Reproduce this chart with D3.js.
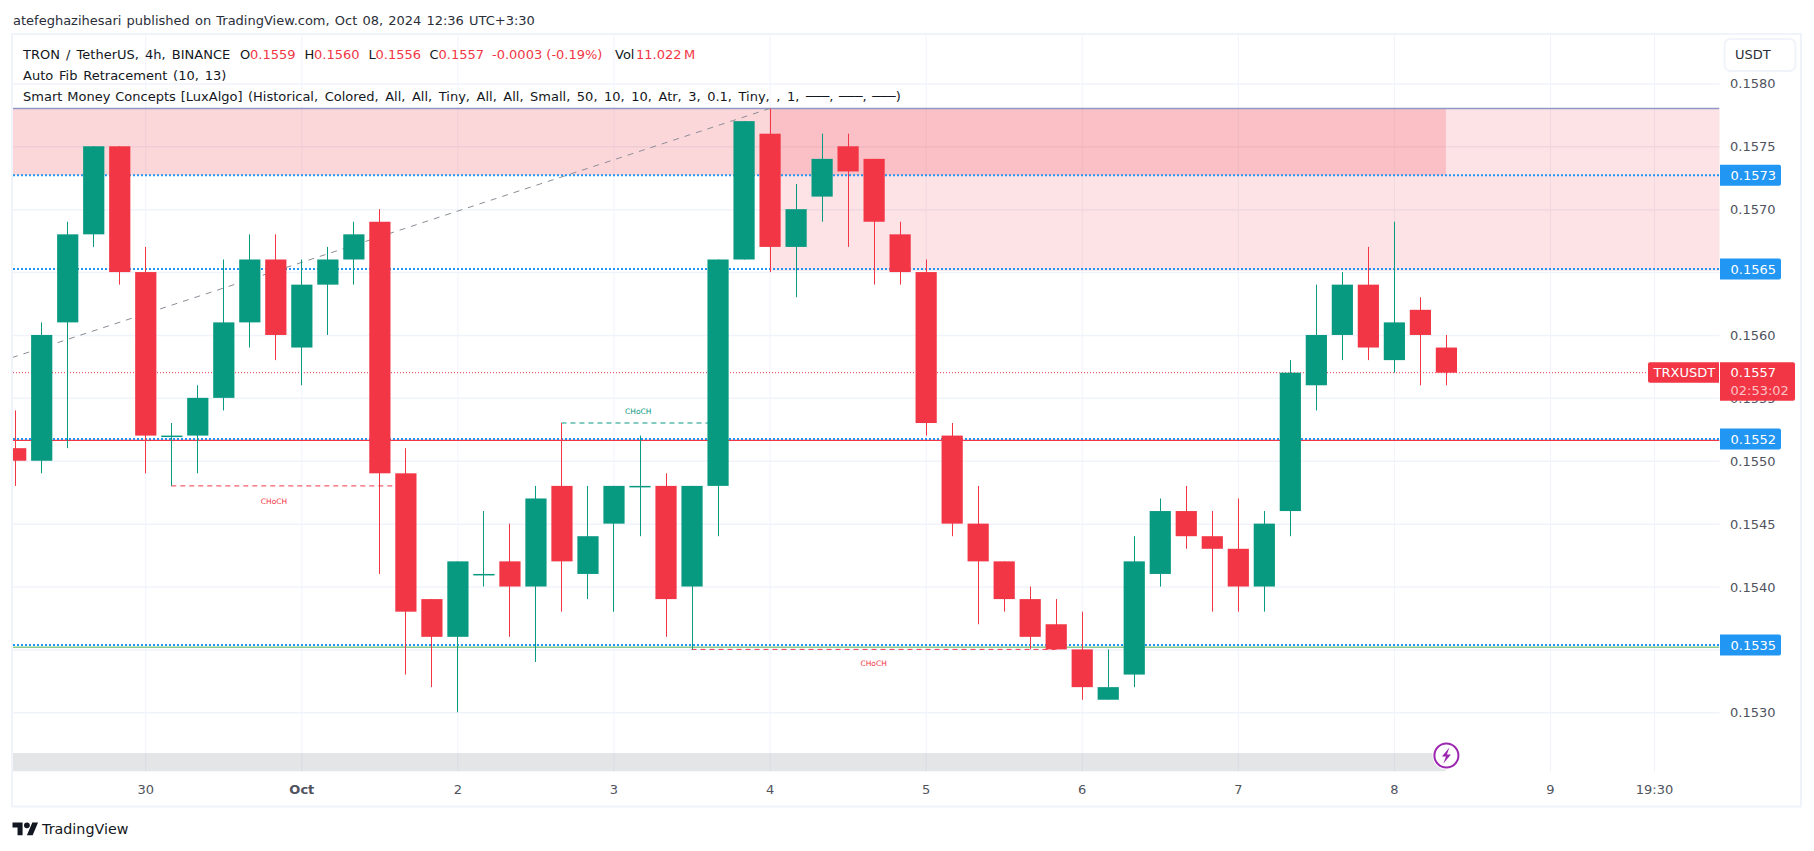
<!DOCTYPE html>
<html><head><meta charset="utf-8">
<script src="https://cdn.jsdelivr.net/npm/d3@7/dist/d3.min.js"></script>
<style>html,body{margin:0;padding:0;background:#fff;overflow:hidden}svg{display:block}text{font-family:"DejaVu Sans",sans-serif}</style>
</head><body><svg id="c" width="1814" height="851"></svg>
<script>
const opens=[.1551,.1550,.1561,.1568,.1575,.1565,.1552,.1552,.1555,.1561,.1566,.1559,.1564,.1566,.1569,.1549,.1539,.1536,.1541,.1542,.1540,.1548,.1541,.1545,.1548,.1548,.1540,.1548,.1566,.1576,.1567,.1571,.1575,.1574,.1568,.1565,.1552,.1545,.1542,.1539,.1537,.1535,.1531,.1533,.1541,.1546,.1544,.1543,.1540,.1546,.1556,.1560,.1564,.1558,.1562,.1559];
const highs=[.1554,.1561,.1569,.1575,.1575,.1567,.1553,.1556,.1566,.1568,.1568,.1566,.1567,.1569,.1570,.1551,.1539,.1542,.1546,.1545,.1548,.1553,.1548,.1548,.1552,.1549,.1548,.1566,.1577,.1578,.1572,.1576,.1576,.1574,.1569,.1566,.1553,.1548,.1542,.1540,.1539,.1538,.1535,.1544,.1547,.1548,.1546,.1547,.1546,.1558,.1564,.1565,.1567,.1569,.1563,.1560];
const lows=[.1548,.1549,.1551,.1567,.1564,.1549,.1548,.1549,.1554,.1559,.1558,.1556,.1560,.1564,.1541,.1533,.1532,.1530,.1540,.1536,.1534,.1538,.1539,.1538,.1544,.1536,.1535,.1544,.1566,.1565,.1563,.1569,.1567,.1564,.1564,.1552,.1544,.1537,.1538,.1535,.1535,.1531,.1531,.1532,.1540,.1543,.1538,.1538,.1538,.1544,.1554,.1558,.1558,.1557,.1556,.1556];
const closes=[.1550,.1560,.1568,.1575,.1565,.1552,.1552,.1555,.1561,.1566,.1560,.1564,.1566,.1568,.1549,.1538,.1536,.1542,.1541,.1540,.1547,.1542,.1544,.1548,.1548,.1539,.1548,.1566,.1577,.1567,.1570,.1574,.1573,.1569,.1565,.1553,.1545,.1542,.1539,.1536,.1535,.1532,.1532,.1542,.1546,.1544,.1543,.1540,.1545,.1557,.1560,.1564,.1559,.1561,.1560,.1557];

const priceTicks=[.1580,.1575,.1570,.1565,.1560,.1555,.1550,.1545,.1540,.1535,.1530];
const timeTickBars=[5,11,17,23,29,35,41,47,53,59,63];
const timeTickLabels=["30","Oct","2","3","4","5","6","7","8","9","19:30"];
const fibLevels=[.15727,.156524,.155173,.153535];
const currentPrice=.1557;
const redLevel=.155162, greenLevel=.153518, topLevel=.1578;
const zoneA={from:-5,to:55,top:.1578,bottom:.15727};
const zoneB={from:29,to:200,top:.1578,bottom:.15651};
const fibTrend=[[-1,.15576],[29,.1578]];
const choch=[
 {from:6,to:15,price:.1548,color:"#F23645",labelBar:9.95,labelPrice:.15468},
 {from:21,to:27,price:.1553,color:"#089981",labelBar:23.95,labelPrice:.15539},
 {from:26,to:40,price:.1535,color:"#F23645",labelBar:33,labelPrice:.15339}
];
const RED="#F23645",GREEN="#089981",BLUE="#2196F3",GRID="#F0F3FA",TXT="#131722",AX="#50535E";

const svg=d3.select("#c");
const pane={l:13,r:1719.5,t:35,b:771.5};
const x=d3.scaleLinear().domain([0,55]).range([15.2,1445.9]);
const y=d3.scaleLinear().domain([.158,.153]).range([83.4,712.3]);
const defs=svg.append("defs");
defs.append("clipPath").attr("id","pane").append("rect").attr("x",pane.l).attr("y",pane.t).attr("width",pane.r-pane.l).attr("height",pane.b-pane.t);

svg.append("rect").attr("x",12).attr("y",34).attr("width",1789).attr("height",772.5).attr("fill","#fff").attr("stroke",GRID).attr("stroke-width",2);

svg.append("text").attr("x",13).attr("y",20).attr("dy",".35em").attr("font-size",13).attr("word-spacing",1).attr("fill","#2A2E39")
 .text("atefeghazihesari published on TradingView.com, Oct 08, 2024 12:36 UTC+3:30");

const yAxis=d3.axisRight(y).tickValues(priceTicks).tickSize(pane.r-pane.l).tickFormat(d3.format(".4f"));
const yG=svg.append("g").attr("transform",`translate(${pane.l},0)`).call(yAxis);
yG.select(".domain").remove();
yG.selectAll("line").attr("stroke",GRID).attr("stroke-width",1.5);
yG.selectAll("text").attr("x",pane.r-pane.l+10.5).attr("font-size",13).attr("fill",AX).attr("dy",".35em").style("font-family",'"DejaVu Sans",sans-serif');
const xAxis=d3.axisBottom(x).tickValues(timeTickBars).tickSize(pane.b-pane.t).tickFormat((d,i)=>timeTickLabels[i]);
const xG=svg.append("g").attr("transform",`translate(0,${pane.t})`).call(xAxis);
xG.select(".domain").remove();
xG.selectAll("line").attr("stroke",GRID).attr("stroke-width",1);
xG.selectAll("text").attr("y",pane.b-pane.t+17.8).attr("dy",".35em").attr("font-size",13).attr("fill",AX)
 .attr("font-weight",(d,i)=>timeTickLabels[i]==="Oct"?"700":"400").style("font-family",'"DejaVu Sans",sans-serif');

const plot=svg.append("g").attr("clip-path","url(#pane)");
plot.append("rect").attr("x",pane.l).attr("y",753).attr("width",x(55)-pane.l).attr("height",pane.b-753).attr("fill","#787B86").attr("opacity",.2);
[[zoneA,.2],[zoneB,.14]].forEach(([z,a])=>{
 plot.append("rect").attr("x",x(z.from)).attr("y",y(z.top)).attr("width",x(z.to)-x(z.from)).attr("height",y(z.bottom)-y(z.top)).attr("fill",RED).attr("fill-opacity",a);
});
plot.append("line").attr("x1",pane.l).attr("x2",pane.r).attr("y1",y(topLevel)).attr("y2",y(topLevel)).attr("stroke","#8F97C6").attr("stroke-width",1.5);
plot.append("line").attr("x1",x(fibTrend[0][0])).attr("y1",y(fibTrend[0][1])).attr("x2",x(fibTrend[1][0])).attr("y2",y(fibTrend[1][1])).attr("stroke","#8A8D96").attr("stroke-width",1).attr("stroke-dasharray","6 6");
plot.append("line").attr("x1",pane.l).attr("x2",pane.r).attr("y1",y(redLevel)).attr("y2",y(redLevel)).attr("stroke",RED).attr("stroke-width",1.3);
plot.append("line").attr("x1",pane.l).attr("x2",pane.r).attr("y1",y(greenLevel)).attr("y2",y(greenLevel)).attr("stroke","#4CAF50").attr("stroke-width",1);
plot.selectAll(".fib").data(fibLevels).join("line").attr("x1",pane.l).attr("x2",pane.r).attr("y1",d=>y(d)).attr("y2",d=>y(d)).attr("stroke",BLUE).attr("stroke-width",2).attr("stroke-dasharray","2 2");
plot.append("line").attr("x1",pane.l).attr("x2",pane.r).attr("y1",y(currentPrice)).attr("y2",y(currentPrice)).attr("stroke",RED).attr("stroke-width",1).attr("stroke-dasharray","1 2");
choch.forEach(c=>{
 plot.append("line").attr("x1",x(c.from)).attr("x2",x(c.to)).attr("y1",y(c.price)).attr("y2",y(c.price)).attr("stroke",c.color).attr("stroke-width",1).attr("stroke-dasharray","5 4");
 plot.append("text").attr("x",x(c.labelBar)).attr("y",y(c.labelPrice)).attr("dy",".35em").attr("text-anchor","middle").attr("font-size",7.5).attr("fill",c.color).text("CHoCH");
});
const idx=d3.range(opens.length);
const bw=21.2;
const col=i=>closes[i]>=opens[i]?GREEN:RED;
plot.selectAll(".wick").data(idx).join("line").attr("x1",i=>Math.round(x(i))+.5).attr("x2",i=>Math.round(x(i))+.5).attr("y1",i=>y(highs[i])).attr("y2",i=>y(lows[i])).attr("stroke",col).attr("stroke-width",1);
plot.selectAll(".body").data(idx).join("rect").attr("x",i=>x(i)-bw/2+.5).attr("width",bw)
 .attr("y",i=>y(Math.max(opens[i],closes[i])))
 .attr("height",i=>Math.max(1.5,Math.abs(y(opens[i])-y(closes[i]))))
 .attr("fill",col);

const fmt=d3.format(".4f");
fibLevels.forEach(p=>{
 const yy=y(p);
 svg.append("path").attr("d",`M${pane.r+.5} ${yy-10.5}h59a2 2 0 0 1 2 2v17a2 2 0 0 1-2 2h-59z`).attr("fill",BLUE);
 svg.append("text").attr("x",1730.5).attr("y",yy).attr("dy",".35em").attr("font-size",13).attr("fill","#fff").text(fmt(p));
});
const cy=y(currentPrice);
svg.append("path").attr("d",`M1648 ${cy-8.5}a2 2 0 0 1 2-2h69v20.5h-69a2 2 0 0 1-2-2z`).attr("fill",RED);
svg.append("text").attr("x",1653.5).attr("y",cy).attr("dy",".35em").attr("font-size",13).attr("fill","#fff").text("TRXUSDT");
svg.append("path").attr("d",`M1720 ${cy-10.5}h73a2 2 0 0 1 2 2v34.5a2 2 0 0 1-2 2h-73z`).attr("fill",RED);
svg.append("text").attr("x",1730.5).attr("y",cy).attr("dy",".35em").attr("font-size",13).attr("fill","#fff").text(fmt(currentPrice));
svg.append("text").attr("x",1730.5).attr("y",cy+18).attr("dy",".35em").attr("font-size",13).attr("fill","#FBC3C7").text("02:53:02");

svg.append("rect").attr("x",1724.5).attr("y",39).attr("width",71).attr("height",32).attr("rx",6).attr("fill","#fff").attr("stroke",GRID).attr("stroke-width",2);
svg.append("text").attr("x",1735).attr("y",54.5).attr("dy",".35em").attr("font-size",13).attr("fill","#2A2E39").text("USDT");

const legendHead=[
 ["O",240,TXT],["0.1559",250,RED],["H",304.5,TXT],["0.1560",314,RED],
 ["L",368.5,TXT],["0.1556",375.5,RED],["C",429.5,TXT],["0.1557",438.5,RED],["-0.0003 (-0.19%)",492,RED],["Vol",615,TXT],["11.022\u2009M",636,RED]
];
const lg=svg.append("g").attr("font-size",13);
lg.append("text").attr("x",23).attr("y",54).attr("dy",".35em").attr("word-spacing",2).attr("fill",TXT).text("TRON / TetherUS, 4h, BINANCE");
legendHead.forEach(d=>lg.append("text").attr("x",d[1]).attr("y",54).attr("dy",".35em").attr("fill",d[2]).text(d[0]));
lg.append("text").attr("x",23).attr("y",75).attr("dy",".35em").attr("word-spacing",1.7).attr("fill",TXT).text("Auto Fib Retracement (10, 13)");
lg.append("text").attr("x",23).attr("y",96).attr("dy",".35em").attr("word-spacing",.8).attr("fill",TXT).text("Smart Money Concepts [LuxAlgo]");
const l3=lg.append("text").attr("x",248).attr("y",96).attr("dy",".35em").attr("fill",TXT);
l3.append("tspan").attr("word-spacing",2.4).text("(Historical, Colored, All, All, Tiny, All, All, Small, 50, 10, 10, Atr, 3, 0.1, Tiny, , 1, ");
l3.append("tspan").attr("word-spacing",1.4).text("───, ───, ───)");

const bx=x(55)+.5,by=755.5;
svg.append("circle").attr("cx",bx).attr("cy",by).attr("r",14).attr("fill","#fff");
svg.append("circle").attr("cx",bx).attr("cy",by).attr("r",12).attr("fill","#fff").attr("stroke","#9C27B0").attr("stroke-width",2);
svg.append("path").attr("d",`M${bx+3} ${by-8}L${bx-4.5} ${by+1}h4l-2.5 7l7.5-9h-4z`).attr("fill","#9C27B0");

const logo=svg.append("g").attr("transform","translate(12.5,819.5) scale(.72)").attr("fill","#131722");
logo.append("path").attr("d","M14 22H7V11H0V4h14v18zM28 22h-8l7.5-18h8L28 22z");
logo.append("circle").attr("cx",20).attr("cy",8).attr("r",4);
svg.append("text").attr("x",42).attr("y",829).attr("dy",".35em").attr("font-size",14.3).attr("fill","#131722").text("TradingView");
</script></body></html>
